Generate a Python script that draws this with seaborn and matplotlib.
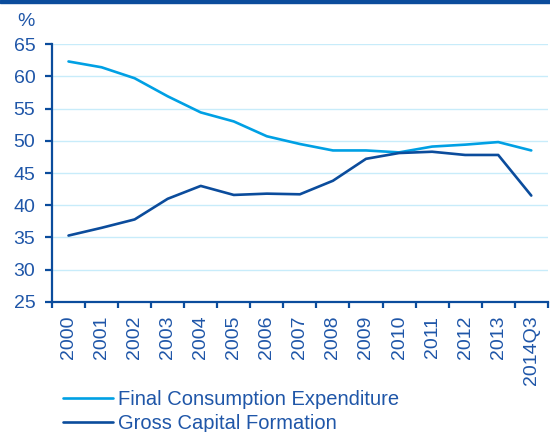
import matplotlib
matplotlib.use("Agg")
import matplotlib.pyplot as plt
import numpy as np
import pandas as pd
import seaborn as sns
from matplotlib.lines import Line2D

periods = ["2000", "2001", "2002", "2003", "2004", "2005", "2006", "2007",
           "2008", "2009", "2010", "2011", "2012", "2013", "2014Q3"]
final_consumption = [62.3, 61.4, 59.7, 56.9, 54.4, 53.0, 50.7, 49.5,
                     48.5, 48.5, 48.2, 49.1, 49.4, 49.8, 48.5]
gross_capital = [35.3, 36.5, 37.8, 41.0, 43.0, 41.6, 41.8, 41.7,
                 43.8, 47.2, 48.1, 48.3, 47.8, 47.8, 41.5]
series_names = ["Final Consumption Expenditure", "Gross Capital Formation"]
y_ticks = [25, 30, 35, 40, 45, 50, 55, 60, 65]

LIGHT = "#00A0E4"
DARK = "#0B4C9C"
TEXT = "#1F56A8"
GRID = "#C8ECFA"

df = pd.DataFrame({
    "period": periods * 2,
    "value": final_consumption + gross_capital,
    "series": [series_names[0]] * len(periods) + [series_names[1]] * len(periods),
})

sns.set_theme(style="white")
plt.rcParams["font.family"] = ["Liberation Sans", "DejaVu Sans"]

fig = plt.figure(figsize=(5.5, 4.32), dpi=100)
ax = fig.add_axes([0.0945, 0.301, 0.9015, 0.597])

sns.lineplot(data=df, x="period", y="value", hue="series",
             palette=[LIGHT, DARK], linewidth=1.9, ax=ax, legend=False, sort=False)

ax.set_xlim(-0.5, len(periods) - 0.5)
ax.set_ylim(25, 65)
ax.set_yticks(y_ticks)
ax.yaxis.grid(True, color=GRID, linewidth=1.0)
ax.xaxis.grid(False)
ax.set_axisbelow(True)
ax.set_xlabel("")
ax.set_ylabel("")

for side in ["top", "right"]:
    ax.spines[side].set_visible(False)
for side in ["left", "bottom"]:
    ax.spines[side].set_color(DARK)
    ax.spines[side].set_linewidth(1.6)

ax.set_xticks(range(len(periods)))
ax.set_xticklabels(periods, rotation=90, fontsize=14, color=TEXT)
ax.set_xticks(np.arange(-0.5, len(periods), 1.0), minor=True)
ax.tick_params(axis="x", which="major", length=0, pad=10)
ax.tick_params(axis="x", which="minor", length=4, width=1.6, color=DARK, bottom=True)
ax.tick_params(axis="y", length=5, width=1.6, color=DARK, labelsize=14,
               labelcolor=TEXT, left=True, pad=7)

fig.text(0.032, 0.951, "%", fontsize=14, color=TEXT, ha="left", va="center")

# thin banner along the top edge
fig.patches.append(plt.Rectangle((0, 0.993), 1, 0.007, transform=fig.transFigure,
                                 color=DARK, zorder=5))

handles = [Line2D([], [], color=LIGHT, linewidth=1.9),
           Line2D([], [], color=DARK, linewidth=1.9)]
fig.legend(handles, series_names, loc="upper left", bbox_to_anchor=(0.1145, 0.097),
           frameon=False, fontsize=14.5, labelcolor=TEXT, handlelength=2.5,
           handletextpad=0.25, labelspacing=0.25, borderpad=0, borderaxespad=0)

fig.savefig("out.png", dpi=100)
